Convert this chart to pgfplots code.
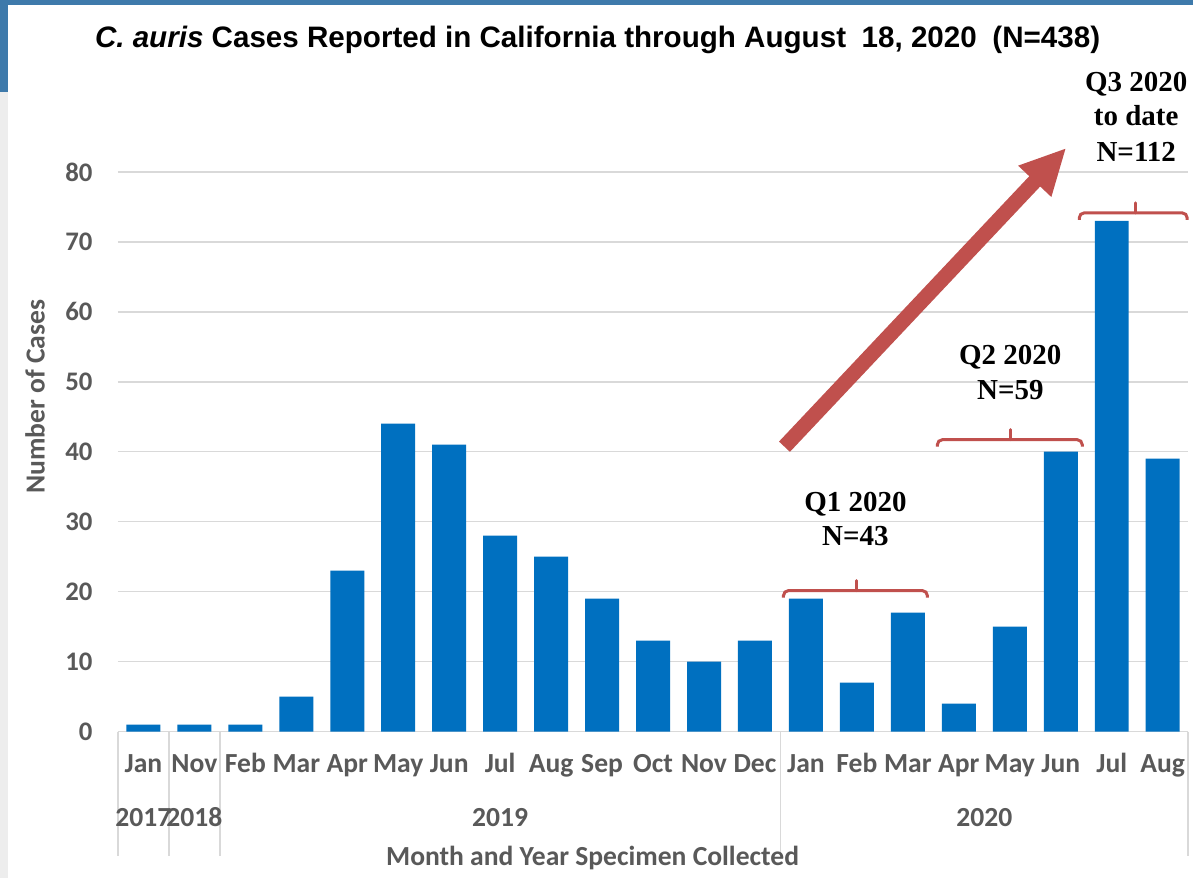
\documentclass[border=0pt]{standalone}
\usepackage{fontspec}
\setmainfont{Liberation Sans}
\newfontfamily\calibri{Carlito}
\newfontfamily\tnr{Liberation Serif}
\usepackage{pgfplots}
\pgfplotsset{compat=1.18}
\usetikzlibrary{arrows.meta}
\definecolor{barblue}{HTML}{0070C0}
\definecolor{annred}{HTML}{C0504D}
\definecolor{labgray}{HTML}{595959}
\definecolor{gridgray}{HTML}{D9D9D9}
\definecolor{slideblue}{HTML}{3E7AAB}
\definecolor{edgegray}{HTML}{EDEDED}

\newcommand\lab{\calibri\bfseries\fontsize{13.8}{16}\selectfont\color{labgray}}
\newcommand\ann{\tnr\bfseries\fontsize{14.5}{17}\selectfont}

\begin{document}
\begin{tikzpicture}
% page units: 1 unit = 0.5pt, y measured downward from the top edge
\begin{scope}[x=0.5pt,y=-0.5pt]
\fill[white] (0,0) rectangle (1194,879);
\fill[slideblue] (0,0) rectangle (1194,5);
\fill[slideblue] (0,0) rectangle (8,92);
\fill[edgegray] (0,92) rectangle (8,879);
\useasboundingbox (0,0) rectangle (1194,879);
\end{scope}

\begin{axis}[
  at={(59pt,-366pt)}, anchor=south west,
  scale only axis, width=535.5pt, height=280pt,
  xmin=-0.5, xmax=20.5, ymin=0, ymax=80,
  ytick={0,10,...,80},
  xtick={0,...,20},
  xticklabels={Jan,Nov,Feb,Mar,Apr,May,Jun,Jul,Aug,Sep,Oct,Nov,Dec,Jan,Feb,Mar,Apr,May,Jun,Jul,Aug},
  ymajorgrids, grid style={gridgray, line width=0.75pt},
  axis lines*=left,
  x axis line style={gridgray, line width=0.75pt},
  y axis line style={draw=none},
  major tick length=0pt,
  tick label style={text=labgray},
  yticklabel style={font=\calibri\bfseries\fontsize{13.4}{15}\selectfont, anchor=east, inner sep=0pt, xshift=-12.5pt},
  xticklabel style={font=\calibri\bfseries\fontsize{13.8}{16}\selectfont, anchor=base, inner sep=0pt, yshift=-20.5pt},
  /pgf/number format/assume math mode=true,
  clip=false,
  ybar, bar width=17pt,
]
\addplot[fill=barblue, draw=none] coordinates {
  (0,1) (1,1) (2,1) (3,5) (4,23) (5,44) (6,41) (7,28) (8,25) (9,19) (10,13)
  (11,10) (12,13) (13,19) (14,7) (15,17) (16,4) (17,15) (18,40) (19,73) (20,39)};
\end{axis}

\begin{scope}[x=0.5pt,y=-0.5pt]
% year group dividers and labels
\foreach \xx in {118,169,220,781,1189}
  \draw[gridgray, line width=0.75pt] (\xx,732) -- (\xx,857);
\node[anchor=base] at (143.5,827) {\lab 2017};
\node[anchor=base] at (194.5,827) {\lab 2018};
\node[anchor=base] at (500.5,827) {\lab 2019};
\node[anchor=base] at (985,827) {\lab 2020};

% axis titles
\node[anchor=base] at (593,866) {\lab Month and Year Specimen Collected};
\node[rotate=90] at (35,397) {\lab Number of Cases};

% title
\node[anchor=base] at (598,48) {\fontsize{14.8}{18}\selectfont\bfseries\textit{C. auris} Cases Reported in California through August\hspace{0.25em} 18, 2020\hspace{0.25em} (N=438)};

% trend arrow
\draw[annred, line width=7.5pt, -{Triangle[length=23pt,width=21pt]}] (785,447) -- (1067,148);

% quarter brackets
\begin{scope}[annred, line width=1.5pt]
  \draw[rounded corners=2.5pt] (784,598) -- (784,591) -- (928,591) -- (928,598);
  \draw[line cap=round] (857,591) -- (857,581);
  \draw[rounded corners=2.5pt] (938,447) -- (938,440) -- (1083,440) -- (1083,447);
  \draw[line cap=round] (1011,440) -- (1011,430);
  \draw[rounded corners=2.5pt] (1080,220) -- (1080,213) -- (1188,213) -- (1188,220);
  \draw[line cap=round] (1136,213) -- (1136,203);
\end{scope}

% quarter totals
\node[anchor=base] at (856,512) {\ann Q1 2020};
\node[anchor=base] at (856,546) {\ann N=43};
\node[anchor=base] at (1011,365) {\ann Q2 2020};
\node[anchor=base] at (1011,400) {\ann N=59};
\node[anchor=base] at (1137,92) {\ann Q3 2020};
\node[anchor=base] at (1137,126) {\ann to date};
\node[anchor=base] at (1137,162) {\ann N=112};
\end{scope}
\end{tikzpicture}
\end{document}
